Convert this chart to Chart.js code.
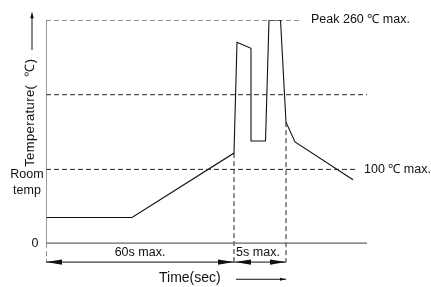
<!DOCTYPE html>
<html>
<head>
<meta charset="utf-8">
<script src="https://cdn.jsdelivr.net/npm/chart.js@4/dist/chart.umd.min.js"></script>
<style>
  body { margin: 0; background: #fff; }
  canvas { display: block; }
</style>
</head>
<body>
<canvas id="reflow" width="431" height="287"></canvas>
<script>
// Reflow profile (schematic)
const profileTime = [0, 86, 188, 191, 205, 205, 219.5, 223, 234.5, 240, 249, 307];
const profileTemp = [30, 30, 105, 234, 227, 119, 119, 260, 260, 141, 118, 74];

// guide levels
const peakLevel = 260;
const midLevel = 173;
const limitLevel = 86;
const preheatEnd = 188;
const peakEnd = 240;
const axisEnd = 321;

const pts = (xs, ys) => xs.map((x, i) => ({ x: x, y: ys[i] }));
const FONT = '"Liberation Sans", Arial, sans-serif';

const solid = (data, color, width) => ({
    data: data, borderColor: color, borderWidth: width, pointRadius: 0, tension: 0, fill: false
});
const dashed = (data) => ({
    data: data, borderColor: '#222', borderWidth: 1, borderDash: [5, 3], pointRadius: 0, tension: 0, fill: false
});

// annotations drawn on top (text, arrowheads)
const annotations = {
    id: 'annotations',
    afterDatasetsDraw(chart) {
        const c = chart.ctx;
        const xs = chart.scales.x, ys = chart.scales.y;
        const px = v => xs.getPixelForValue(v);
        const py = v => ys.getPixelForValue(v);
        c.save();
        c.fillStyle = '#111';
        c.strokeStyle = '#111';

        const text = (s, x, y, size, align) => {
            c.font = size + 'px ' + FONT;
            c.textAlign = align || 'left';
            c.textBaseline = 'middle';
            c.fillText(s, px(x), py(y));
        };
        const head = (x, y, dir, len, half) => {
            const tx = px(x), ty = py(y);
            c.beginPath();
            c.moveTo(tx, ty);
            c.lineTo(tx - dir * len, ty - half);
            c.lineTo(tx - dir * len, ty + half);
            c.closePath();
            c.fill();
        };

        text('Peak 260 \u2103 max.', 265, peakLevel, 12.5);
        text('100 \u2103 max.', 318, limitLevel, 12.5);
        text('Room', -19, 80.5, 12.5, 'center');
        text('temp', -19, 61, 12.5, 'center');
        text('0', -11, 0, 12.5, 'center');
        text('60s max.', 94, -10.3, 12.5, 'center');
        text('5s max.', 212, -10.3, 12.5, 'center');
        text('Time(sec)', 113, -40.5, 14);

        // dimension arrowheads
        head(0, -22, -1, 16, 2.6);
        head(preheatEnd, -22, 1, 16, 2.6);
        head(preheatEnd + 1, -22, -1, 16, 2.6);
        head(peakEnd, -22, 1, 16, 2.6);

        // time arrow
        c.lineWidth = 1;
        c.beginPath();
        c.moveTo(px(190), py(-42));
        c.lineTo(px(240), py(-42));
        c.stroke();
        head(240, -42, 1, 6, 1.5);

        // vertical temperature label with arrow
        c.translate(px(-16), py(152));
        c.rotate(-Math.PI / 2);
        c.font = '13px ' + FONT;
        c.letterSpacing = '0.4px';
        c.textAlign = 'center';
        c.textBaseline = 'middle';
        c.fillText('Temperature(  \u2103)', 0, 0);
        c.letterSpacing = '0px';
        c.setTransform(1, 0, 0, 1, 0, 0);
        c.beginPath();
        c.moveTo(px(-14), py(225));
        c.lineTo(px(-14), py(266));
        c.stroke();
        c.beginPath();
        c.moveTo(px(-14), py(270));
        c.lineTo(px(-14) - 1.8, py(262));
        c.lineTo(px(-14) + 1.8, py(262));
        c.closePath();
        c.fill();
        c.restore();
    }
};

new Chart(document.getElementById('reflow'), {
    type: 'line',
    data: {
        datasets: [
            solid(pts([0, axisEnd], [0, 0]), '#666', 1.3),
            solid(pts([0, 0], [0, peakLevel]), '#666', 1.3),
            dashed(pts([0, 256], [peakLevel, peakLevel])),
            dashed(pts([0, axisEnd], [midLevel, midLevel])),
            dashed(pts([0, 312], [limitLevel, limitLevel])),
            dashed(pts([preheatEnd, preheatEnd], [105, -22])),
            dashed(pts([peakEnd, peakEnd], [141, -22])),
            dashed(pts([0, 0], [0, -22])),
            solid(pts([0, peakEnd], [-22, -22]), '#111', 1),
            solid(pts(profileTime, profileTemp), '#111', 1.1)
        ]
    },
    options: {
        responsive: false,
        animation: false,
        events: [],
        layout: { padding: { left: 46, right: 64, top: 20, bottom: 0 } },
        plugins: { legend: { display: false }, tooltip: { enabled: false } },
        scales: {
            x: { type: 'linear', min: 0, max: axisEnd, display: false },
            y: { type: 'linear', min: -51, max: peakLevel, display: false }
        }
    },
    plugins: [annotations]
});
</script>
</body>
</html>
